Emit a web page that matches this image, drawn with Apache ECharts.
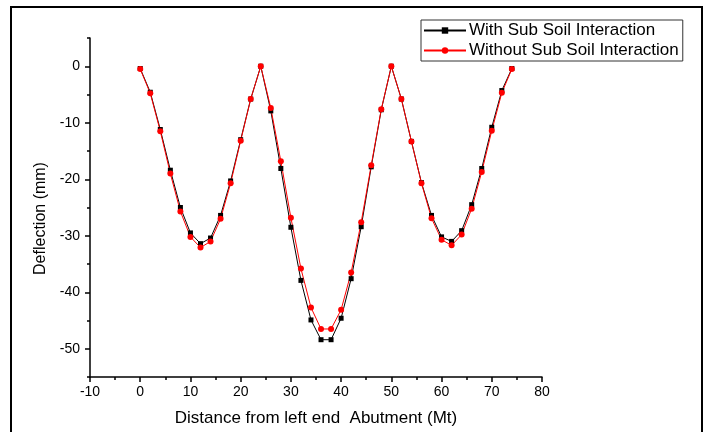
<!DOCTYPE html>
<html>
<head>
<meta charset="utf-8">
<script src="https://cdn.jsdelivr.net/npm/echarts@6/dist/echarts.min.js"></script>
<style>
  html, body { margin: 0; padding: 0; background: #fff; }
  #chart { width: 706px; height: 432px; }
</style>
</head>
<body>
<div id="chart"></div>
<script>
// distance from left abutment (m)
const distance = [0, 2, 4, 6, 8, 10, 12, 14, 16, 18, 20, 22, 24, 26, 28, 30, 32, 34, 36,
  38, 40, 42, 44, 46, 48, 50, 52, 54, 56, 58, 60, 62, 64, 66, 68, 70, 72, 74]

const withSoil = [-0.4, -4.6, -11.2, -18.4, -25.0, -29.5, -31.4, -30.4, -26.4, -20.3,
  -13.0, -5.8, 0, -7.9, -18.1, -28.5, -37.9, -44.9, -48.4,
  -48.4, -44.6, -37.6, -28.4, -17.8, -7.7, 0, -5.8, -13.3, -20.6, -26.4,
  -30.2, -31.0, -29.1, -24.5, -18.1, -10.8, -4.3, -0.4]

const withoutSoil = [-0.5, -4.8, -11.5, -19.0, -25.7, -30.2, -32.1, -31.0, -27.0, -20.7,
  -13.2, -5.8, 0, -7.4, -16.8, -26.8, -35.8, -42.7, -46.5,
  -46.5, -43.1, -36.5, -27.6, -17.5, -7.6, 0, -5.8, -13.3, -20.7, -26.9,
  -30.7, -31.7, -29.8, -25.2, -18.7, -11.4, -4.7, -0.5]

const yMajorTicks = [-50, -40, -30, -20, -10, 0]
const yMinorTicks = [-55, -45, -35, -25, -15, -5, 5]

const font = 'Arial, "Liberation Sans", sans-serif'

const chart = echarts.init(document.getElementById('chart'))

chart.setOption({
  animation: false,
  backgroundColor: '#fff',
  grid: {
    left: 90,
    top: 38,
    right: 164,
    bottom: 52
  },
  graphic: [{
    type: 'rect',
    shape: { x: 11, y: 7, width: 691, height: 440 },
    style: { fill: 'none', stroke: '#000', lineWidth: 2 },
    silent: true
  }],
  legend: {
    orient: 'vertical',
    left: 421,
    top: 20,
    padding: [2, 4, 2, 2],
    itemGap: 3,
    itemWidth: 42,
    itemHeight: 8,
    borderColor: '#333',
    borderWidth: 1,
    textStyle: { fontFamily: font, fontSize: 17, color: '#000', padding: [0, 0, 0, -2] },
    data: ['With Sub Soil Interaction', 'Without Sub Soil Interaction']
  },
  xAxis: {
    type: 'value',
    min: -10,
    max: 80,
    interval: 10,
    name: 'Distance from left end  Abutment (Mt)',
    nameLocation: 'middle',
    nameGap: 33,
    nameTextStyle: { fontFamily: font, fontSize: 17, color: '#000' },
    axisLine: { show: true, onZero: false, lineStyle: { color: '#000', width: 1.5 } },
    axisTick: { show: true, inside: false, length: 5, lineStyle: { color: '#000', width: 1.5 } },
    minorTick: { show: true, splitNumber: 2, length: 3, lineStyle: { color: '#000', width: 1.5 } },
    axisLabel: { fontFamily: font, fontSize: 14, color: '#000', margin: 8 },
    splitLine: { show: false }
  },
  yAxis: [{
    type: 'value',
    min: -55,
    max: 5,
    position: 'left',
    name: 'Deflection (mm)',
    nameLocation: 'middle',
    nameGap: 41,
    nameTextStyle: { fontFamily: font, fontSize: 16, color: '#000', padding: [0, 22, 0, 0] },
    axisLine: { show: true, onZero: false, lineStyle: { color: '#000', width: 1.5 } },
    axisTick: { show: true, length: 5, customValues: yMajorTicks, lineStyle: { color: '#000', width: 1.5 } },
    axisLabel: { fontFamily: font, fontSize: 14, color: '#000', margin: 10, customValues: yMajorTicks },
    splitLine: { show: false }
  }, {
    type: 'value',
    min: -55,
    max: 5,
    position: 'left',
    offset: 0,
    axisLine: { show: false, onZero: false },
    axisTick: { show: true, length: 3, customValues: yMinorTicks, lineStyle: { color: '#000', width: 1.5 } },
    axisLabel: { show: false },
    splitLine: { show: false }
  }],
  series: [{
    name: 'With Sub Soil Interaction',
    type: 'line',
    data: distance.map((d, i) => [d, withSoil[i]]),
    symbol: 'rect',
    symbolSize: 5,
    color: '#000',
    lineStyle: { color: '#000', width: 1 },
    itemStyle: { color: '#000' }
  }, {
    name: 'Without Sub Soil Interaction',
    type: 'line',
    data: distance.map((d, i) => [d, withoutSoil[i]]),
    symbol: 'circle',
    symbolSize: 6,
    color: '#f00',
    lineStyle: { color: '#f00', width: 1 },
    itemStyle: { color: '#f00' }
  }]
})
</script>
</body>
</html>
